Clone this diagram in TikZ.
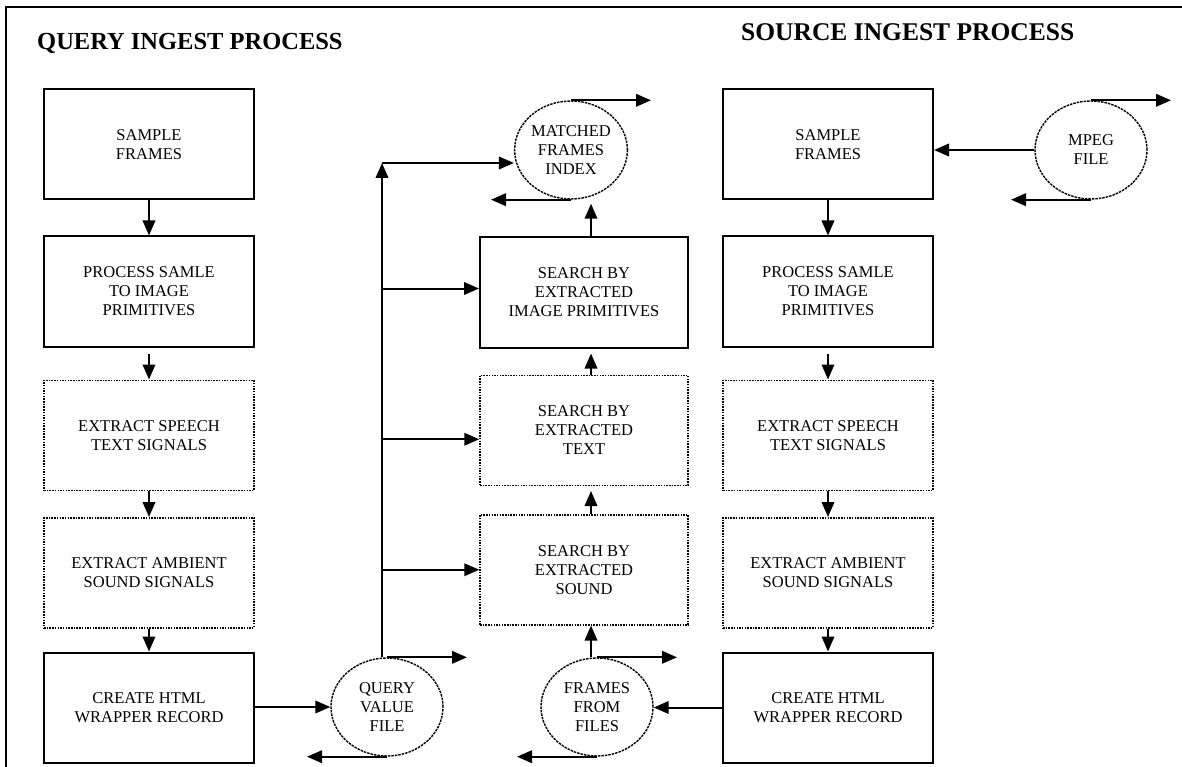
\documentclass[tikz,border=0pt]{standalone}
\usepackage{fontspec}
\setmainfont{Liberation Serif}
\usetikzlibrary{positioning,arrows.meta,shapes.geometric,calc}

\begin{document}
\begin{tikzpicture}[
  x=1pt, y=-1pt,
  font=\fontsize{16.5}{19}\selectfont,
  >={Triangle[length=15pt,width=12.5pt]},
  box/.style={draw, line width=2pt, align=center, minimum width=210pt, minimum height=110pt, inner sep=0pt},
  dbox/.style={box, line width=1.5pt, dash pattern=on 1.5pt off 1.2pt},
  store/.style={ellipse, draw, line width=1.4pt, dash pattern=on 2.5pt off 1pt, align=center, minimum width=112pt, minimum height=98pt, inner sep=0pt},
  title/.style={font=\fontsize{24.5}{28}\selectfont\bfseries, anchor=base west, inner sep=0pt},
  arr/.style={->, line width=2pt},
]
\useasboundingbox (0,0) rectangle (1182,767);
\draw[line width=2.2pt] (6,767) -- (6,7) -- (1182,7);

\node[title] (qtitle) at (37,50) {QUERY INGEST PROCESS};
\node[title, font=\fontsize{25.5}{28}\selectfont\bfseries] (stitle) at (741,41) {SOURCE INGEST PROCESS};

% query side
\node[box] (qsample) at (149,144.5) {SAMPLE\\FRAMES};
\node[box, below=35pt of qsample] (qprocess) {PROCESS SAMLE\\TO IMAGE\\PRIMITIVES};
\node[dbox, below=32pt of qprocess] (qspeech) {EXTRACT SPEECH\\TEXT SIGNALS};
\node[dbox, below=26pt of qspeech] (qambient) {EXTRACT AMBIENT\\SOUND SIGNALS};
\node[box, below=23pt of qambient] (qhtml) {CREATE HTML\\WRAPPER RECORD};

% source side
\node[box] (ssample) at (828,144.5) {SAMPLE\\FRAMES};
\node[box, below=35pt of ssample] (sprocess) {PROCESS SAMLE\\TO IMAGE\\PRIMITIVES};
\node[dbox, below=32pt of sprocess] (sspeech) {EXTRACT SPEECH\\TEXT SIGNALS};
\node[dbox, below=26pt of sspeech] (sambient) {EXTRACT AMBIENT\\SOUND SIGNALS};
\node[box, below=23pt of sambient] (shtml) {CREATE HTML\\WRAPPER RECORD};

% search
\node[box, minimum width=208pt] (byimg) at (584,292.5) {SEARCH BY\\EXTRACTED\\IMAGE PRIMITIVES};
\node[dbox, minimum width=208pt, below=26pt of byimg] (bytext) {SEARCH BY\\EXTRACTED\\TEXT};
\node[dbox, minimum width=208pt, below=28pt of bytext] (bysound) {SEARCH BY\\EXTRACTED\\SOUND};

% files
\node[store] (matched) at (571,150) {MATCHED\\FRAMES\\INDEX};
\node[store] (query) at (387,707) {QUERY\\VALUE\\FILE};
\node[store] (frames) at (597,707) {FRAMES\\FROM\\FILES};
\node[store] (mpeg) at (1091,150) {MPEG\\FILE};

\foreach \a/\b in {qsample/qprocess, qspeech/qambient, qambient/qhtml,
                   ssample/sprocess, sspeech/sambient, sambient/shtml}
  \draw[arr] (\a) -- (\b);
\draw[arr, shorten <=6pt] (qprocess) -- (qspeech);
\draw[arr, shorten <=6pt] (sprocess) -- (sspeech);

\draw[arr, shorten >=5pt] ([xshift=7pt]bytext.north) -- ([xshift=7pt]byimg.south);
\draw[arr, shorten >=5pt] ([xshift=7pt]bysound.north) -- ([xshift=7pt]bytext.south);
\draw[arr] ([xshift=-6pt]frames.north) -- ([xshift=7pt]bysound.south);
\draw[arr, shorten >=4pt] ([xshift=7pt]byimg.north) -- ([xshift=20pt]matched.south);

\coordinate (trunk) at (382,163);
\draw[arr] ([xshift=-5pt]query.north) -- (trunk);
\draw[arr] (trunk) -- (trunk -| matched.west);
\coordinate (toimg) at ($(byimg.west)+(0,-4)$);
\coordinate (totext) at ($(bytext.west)+(0,9)$);
\foreach \c in {toimg, totext, bysound.west}
  \draw[arr] (trunk |- \c) -- (\c);

\draw[arr] (qhtml.east |- query.west) -- (query.west);
\draw[arr] (shtml.west) -- (shtml.west -| frames.east);
\draw[arr] (mpeg.west) -- (mpeg.west -| ssample.east);

\foreach \n in {matched, query, frames, mpeg} {
  \coordinate (\n-out) at ($(\n.north)+(80,0)$);
  \coordinate (\n-back) at ($(\n.south)+(-80,0)$);
  \draw[arr] (\n.north) -- (\n-out);
  \draw[arr] (\n.south) -- (\n-back);
}
\end{tikzpicture}
\end{document}
